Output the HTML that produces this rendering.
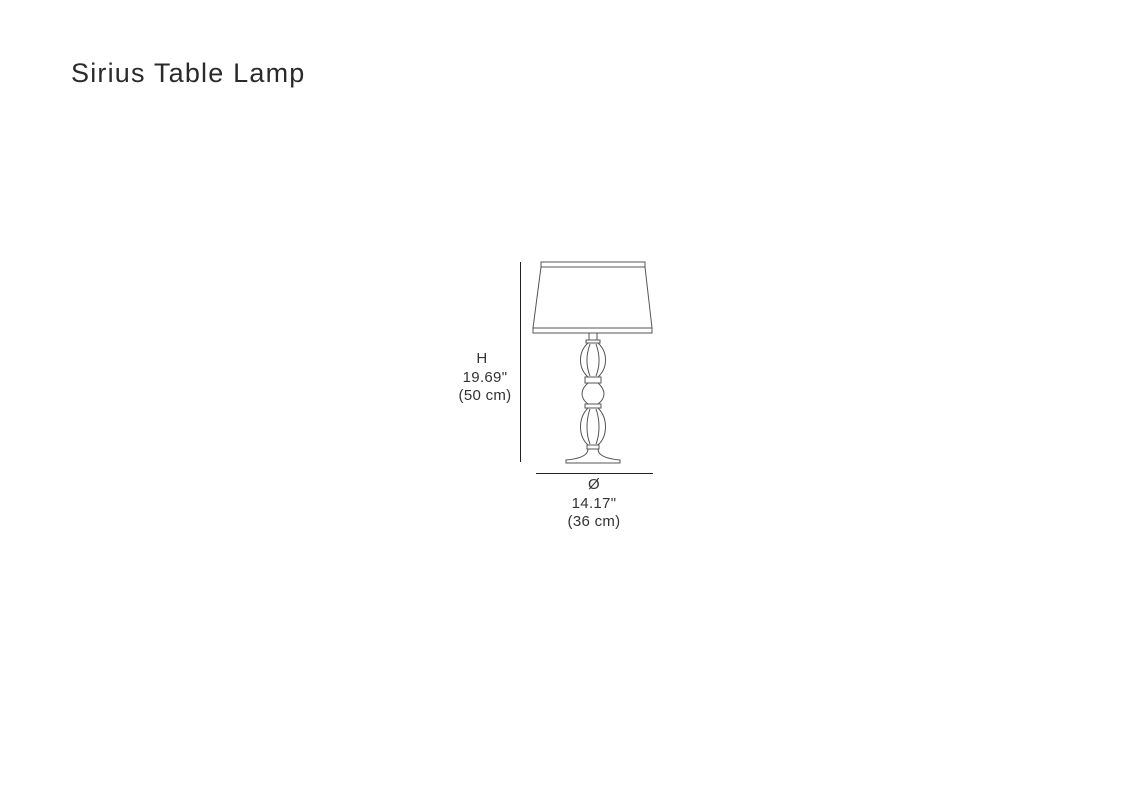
<!DOCTYPE html>
<html><head><style>
body{margin:0;width:1136px;height:800px;background:#fff;position:relative;font-family:"Liberation Sans",sans-serif;color:#222;}
.t{position:absolute;left:71px;top:58px;font-size:27px;font-weight:300;letter-spacing:1.2px;color:#2a2a2a}
.l{position:absolute;font-size:15px;text-align:center;line-height:18px;color:#333;letter-spacing:0.3px}
</style></head><body>
<div class="t">Sirius Table Lamp</div>
<svg width="1136" height="800" style="position:absolute;left:0;top:0" fill="none" stroke="#555" stroke-width="1">
<line x1="520.5" y1="262" x2="520.5" y2="462" stroke="#222"/>
<line x1="536" y1="473.5" x2="653" y2="473.5" stroke="#222"/>
<path d="M541 262 L645 262 L645 267 L541 267 Z"/>
<path d="M541 267 L533 328 L652 328 L645 267"/>
<path d="M533 328 L533 333 L652 333 L652 328"/>
<path d="M589 333 L589 340 L597 340 L597 333"/>
<path d="M586 340 L600 340 L600 343 L586 343 Z"/>
<path d="M588 343 C578 352 578 368 588 377 L598 377 C608 368 608 352 598 343"/>
<path d="M590 344 C586 355 586 366 590 376 M596 344 C600 355 600 366 596 376"/>
<path d="M585 377 L601 377 L601 383 L585 383 Z"/>
<path d="M588 383 C580 390 580 398 588 404 L598 404 C606 398 606 390 598 383"/>
<path d="M585 404 L601 404 L601 408 L585 408 Z"/>
<path d="M588 408 C578 418 578 436 588 445 L598 445 C608 436 608 418 598 408"/>
<path d="M590 409 C586 420 586 434 590 444 M596 409 C600 420 600 434 596 444"/>
<path d="M587 445 L599 445 L599 449 L587 449 Z"/>
<path d="M588 449 C588 456 578 459 566 460 L566 463 L620 463 L620 460 C608 459 598 456 598 449"/>
</svg>
<div class="l" style="left:460px;top:350px;width:44px">H</div>
<div class="l" style="left:450px;top:369px;width:70px">19.69"<br>(50 cm)</div>
<div class="l" style="left:559px;top:476px;width:70px">Ø</div>
<div class="l" style="left:559px;top:495px;width:70px">14.17"<br>(36 cm)</div>
</body></html>
